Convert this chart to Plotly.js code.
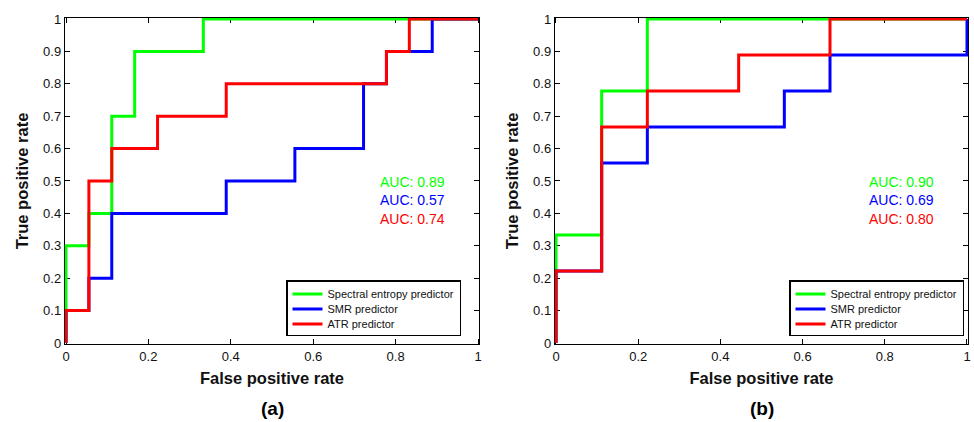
<!DOCTYPE html>
<html>
<head>
<meta charset="utf-8">
<script src="https://cdn.plot.ly/plotly-3.0.1.min.js"></script>
<style>html,body{margin:0;padding:0;background:#fff}#chart{width:974px;height:422px}</style>
</head>
<body>
<div id="chart"></div>
<script>
// ---- Data (panel a: 18 negatives, 10 positives; panel b: 9 negatives, 9 positives)
const seriesNames = ["Spectral entropy predictor", "SMR predictor", "ATR predictor"];
const seriesColors = ["#00ff00", "#0000ff", "#ff0000"];

// Panel (a)
const aGreenFPR = [0, 0, 1/18, 1/18, 2/18, 2/18, 3/18, 3/18, 6/18, 6/18, 1];
const aGreenTPR = [0, 0.3, 0.3, 0.4, 0.4, 0.7, 0.7, 0.9, 0.9, 1, 1];
const aBlueFPR = [0, 0, 1/18, 1/18, 2/18, 2/18, 7/18, 7/18, 10/18, 10/18, 13/18, 13/18, 14/18, 14/18, 16/18, 16/18, 1];
const aBlueTPR = [0, 0.1, 0.1, 0.2, 0.2, 0.4, 0.4, 0.5, 0.5, 0.6, 0.6, 0.8, 0.8, 0.9, 0.9, 1, 1];
const aRedFPR = [0, 0, 1/18, 1/18, 2/18, 2/18, 4/18, 4/18, 7/18, 7/18, 14/18, 14/18, 15/18, 15/18, 1];
const aRedTPR = [0, 0.1, 0.1, 0.5, 0.5, 0.6, 0.6, 0.7, 0.7, 0.8, 0.8, 0.9, 0.9, 1, 1];
const aAUC = ["0.89", "0.57", "0.74"];

// Panel (b)
const bGreenFPR = [0, 0, 1/9, 1/9, 2/9, 2/9, 1];
const bGreenTPR = [0, 3/9, 3/9, 7/9, 7/9, 1, 1];
const bBlueFPR = [0, 0, 1/9, 1/9, 2/9, 2/9, 5/9, 5/9, 6/9, 6/9, 1, 1];
const bBlueTPR = [0, 2/9, 2/9, 5/9, 5/9, 6/9, 6/9, 7/9, 7/9, 8/9, 8/9, 1];
const bRedFPR = [0, 0, 1/9, 1/9, 2/9, 2/9, 4/9, 4/9, 6/9, 6/9, 1];
const bRedTPR = [0, 2/9, 2/9, 6/9, 6/9, 7/9, 7/9, 8/9, 8/9, 1, 1];
const bAUC = ["0.90", "0.69", "0.80"];

const panelLabels = ["(a)", "(b)"];
const xTickVals = [0, 0.2, 0.4, 0.6, 0.8, 1];
const xTickText = ["0", "0.2", "0.4", "0.6", "0.8", "1"];
const yTickVals = [0, 0.1, 0.2, 0.3, 0.4, 0.5, 0.6, 0.7, 0.8, 0.9, 1];
const yTickText = ["0", "0.1", "0.2", "0.3", "0.4", "0.5", "0.6", "0.7", "0.8", "0.9", "1"];

const FONT = "Liberation Sans, Arial, Helvetica, sans-serif";

function tr(x, y, i, xa, ya, leg) {
  return {x: x, y: y, type: "scatter", mode: "lines", name: seriesNames[i],
    xaxis: xa, yaxis: ya, legend: leg,
    line: {color: seriesColors[i], width: 3, shape: "linear"}};
}
const data = [
  tr(aGreenFPR, aGreenTPR, 0, "x", "y", "legend"),
  tr(aBlueFPR, aBlueTPR, 1, "x", "y", "legend"),
  tr(aRedFPR, aRedTPR, 2, "x", "y", "legend"),
  tr(bGreenFPR, bGreenTPR, 0, "x2", "y2", "legend2"),
  tr(bBlueFPR, bBlueTPR, 1, "x2", "y2", "legend2"),
  tr(bRedFPR, bRedTPR, 2, "x2", "y2", "legend2")
];

const W = 974, H = 422;
const pad = 0.003;
function xAxis(l, r) {
  const span = (r - l);
  const lpx = l - pad * span, rpx = r + pad * span;
  return {domain: [lpx / W, rpx / W], range: [-pad, 1 + pad],
    tickvals: xTickVals, ticktext: xTickText, ticks: "inside", ticklen: 5, tickwidth: 1,
    tickcolor: "#000", showline: true, linecolor: "#000", linewidth: 1, mirror: "ticks",
    showgrid: false, zeroline: false, layer: "below traces",
    tickfont: {family: FONT, size: 13, color: "#111"},
    title: {text: "<b>False positive rate</b>", font: {family: FONT, size: 16.5, color: "#111"}, standoff: 9}};
}
function yAxis(anchor) {
  const t = 19, b = 343;
  const span = (b - t);
  const tpx = t - pad * span, bpx = b + pad * span;
  return {domain: [1 - bpx / H, 1 - tpx / H], range: [-pad, 1 + pad], anchor: anchor,
    tickvals: yTickVals, ticktext: yTickText, ticks: "inside", ticklen: 5, tickwidth: 1,
    tickcolor: "#000", showline: true, linecolor: "#000", linewidth: 1, mirror: "ticks",
    showgrid: false, zeroline: false, layer: "below traces",
    tickfont: {family: FONT, size: 13, color: "#111"},
    title: {text: "<b>True positive rate</b>", font: {family: FONT, size: 16.5, color: "#111"}, standoff: 10}};
}

const annotations = [];
const aucY = [0.497, 0.441, 0.383];
[["x", "y", aAUC], ["x2", "y2", bAUC]].forEach(function (p) {
  p[2].forEach(function (v, i) {
    annotations.push({xref: p[0], yref: p[1], x: 0.925, y: aucY[i], xanchor: "right", yanchor: "middle",
      text: "AUC: " + v, showarrow: false, font: {family: FONT, size: 14, color: seriesColors[i]}});
  });
});
[[272, panelLabels[0]], [762, panelLabels[1]]].forEach(function (p) {
  annotations.push({xref: "paper", yref: "paper", x: p[0] / W, y: 1 - 408 / H, xanchor: "center", yanchor: "middle",
    text: "<b>" + p[1] + "</b>", showarrow: false, font: {family: FONT, size: 19, color: "#000"}});
});

function legendCfg(rightPx) {
  return {x: rightPx / W, xanchor: "right", y: 1 - 280 / H, yanchor: "top",
    bgcolor: "#fff", bordercolor: "#000", borderwidth: 1.5,
    font: {family: FONT, size: 11, color: "#111"}, itemwidth: 30, tracegroupgap: 0};
}

const layout = {
  width: W, height: H, margin: {l: 0, r: 0, t: 0, b: 0},
  paper_bgcolor: "#fff", plot_bgcolor: "#fff", showlegend: true,
  xaxis: Object.assign(xAxis(66, 478), {anchor: "y"}), yaxis: yAxis("x"),
  xaxis2: Object.assign(xAxis(556, 967), {anchor: "y2"}), yaxis2: yAxis("x2"),
  legend: legendCfg(461), legend2: legendCfg(964),
  annotations: annotations
};

// Tighten legend row spacing (Plotly enforces a 19px minimum row height; the reference uses ~15px)
function tightenLegends(gd) {
  const ROW = 15;
  gd.querySelectorAll(".infolayer > g").forEach(function (g) {
    const cls = g.getAttribute("class") || "";
    if (cls.indexOf("legend") !== 0) return;
    const items = g.querySelectorAll("g.traces");
    if (!items.length) return;
    let first = null, saved = 0;
    items.forEach(function (it, i) {
      const m = /translate\(\s*([-\d.]+)[ ,]+([-\d.]+)\s*\)/.exec(it.getAttribute("transform") || "");
      if (!m) return;
      const x = parseFloat(m[1]), y = parseFloat(m[2]);
      if (first === null) first = y;
      const ny = first + i * ROW - 2;
      saved = y - ny;
      it.setAttribute("transform", "translate(" + x + "," + ny + ")");
    });
    const bg = g.querySelector("rect.bg");
    if (bg) {
      const h = parseFloat(bg.getAttribute("height"));
      bg.setAttribute("height", h - saved - 4);
    }
  });
}

Plotly.newPlot("chart", data, layout, {staticPlot: true, displayModeBar: false}).then(tightenLegends);
</script>
</body>
</html>
